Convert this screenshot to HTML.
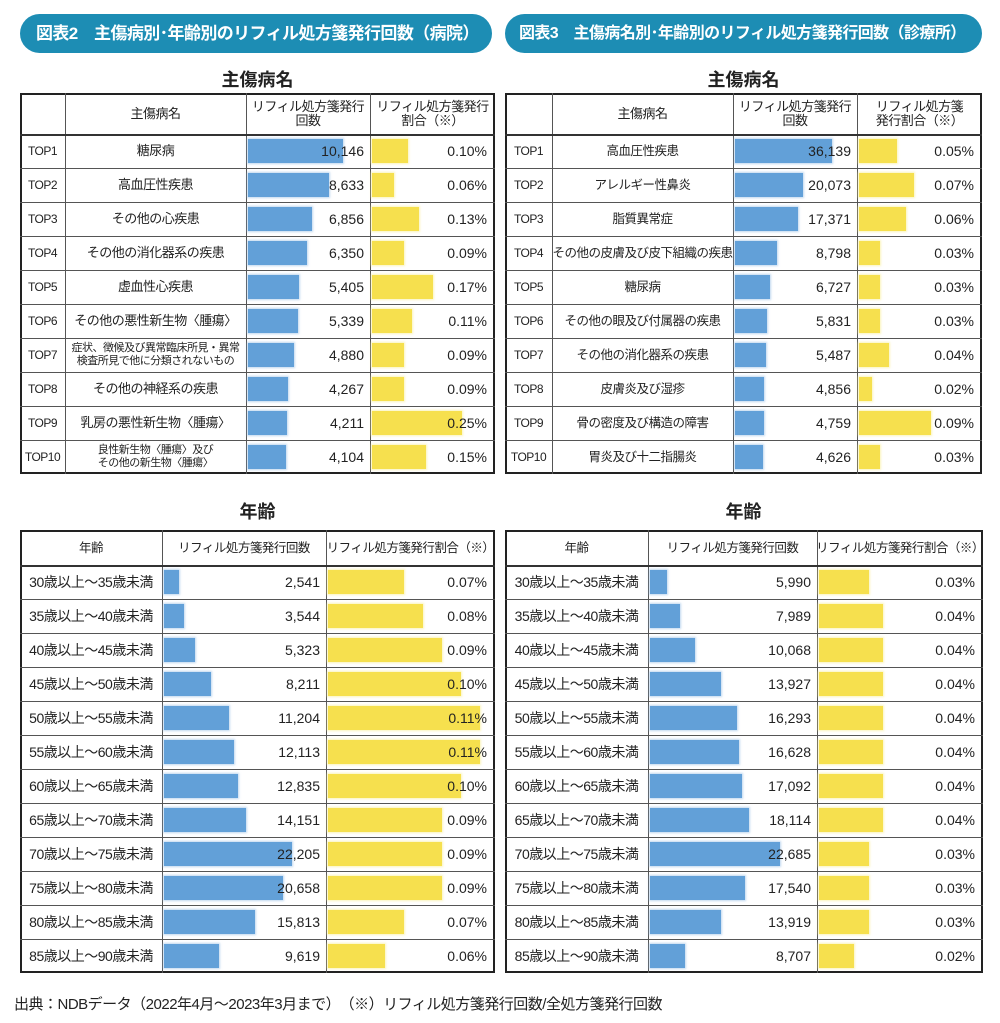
<!DOCTYPE html>
<html><head><meta charset="utf-8">
<style>
body{margin:0;width:1000px;height:1023px;background:#fff;position:relative;overflow:hidden;font-family:"Liberation Sans","Noto Sans CJK JP",sans-serif;color:#222}
.pill{position:absolute;top:14px;height:39px;border-radius:20px;background:#1d8db4;color:#fff;font-size:17px;font-weight:bold;line-height:39px;padding-left:16px;box-sizing:border-box;letter-spacing:-0.6px;white-space:nowrap;overflow:hidden}
.sub{position:absolute;font-size:18px;font-weight:bold;text-align:center}
.tbl{position:absolute;border:2px solid #222;box-sizing:border-box}
.vl{position:absolute;width:1px;background:#555}
.hl{position:absolute;height:1px;background:#555}
.cell{position:absolute;font-size:13px;display:flex;align-items:center;justify-content:center;text-align:center;line-height:14px;white-space:nowrap;letter-spacing:-0.5px}
.bar{position:absolute;box-shadow:0 0 2px 1px rgba(150,190,230,.6)}
.foot{position:absolute;left:14px;top:993px;font-size:15px;letter-spacing:-0.5px}
</style></head><body>
<div class="pill" style="left:20px;width:472px">図表2　主傷病別･年齢別のリフィル処方箋発行回数（病院）</div>
<div class="pill" style="left:505px;width:477px;font-size:16px;padding-left:14px">図表3　主傷病名別･年齢別のリフィル処方箋発行回数（診療所）</div>
<div class="sub" style="left:20px;width:475px;top:66px">主傷病名</div>
<div class="sub" style="left:505px;width:477px;top:66px">主傷病名</div>
<div class="sub" style="left:20px;width:475px;top:498px">年齢</div>
<div class="sub" style="left:505px;width:477px;top:498px">年齢</div>
<div class="foot">出典：NDBデータ（2022年4月～2023年3月まで）　（※）リフィル処方箋発行回数/全処方箋発行回数</div>
<script>
const hospDiseases=["糖尿病","高血圧性疾患","その他の心疾患","その他の消化器系の疾患","虚血性心疾患","その他の悪性新生物〈腫瘍〉","症状、徴候及び異常臨床所見・異常<br>検査所見で他に分類されないもの","その他の神経系の疾患","乳房の悪性新生物〈腫瘍〉","良性新生物〈腫瘍〉及び<br>その他の新生物〈腫瘍〉"];
const hospDiseaseCounts=[10146,8633,6856,6350,5405,5339,4880,4267,4211,4104];
const hospDiseaseRates=[0.10,0.06,0.13,0.09,0.17,0.11,0.09,0.09,0.25,0.15];
const clinDiseases=["高血圧性疾患","アレルギー性鼻炎","脂質異常症","その他の皮膚及び皮下組織の疾患","糖尿病","その他の眼及び付属器の疾患","その他の消化器系の疾患","皮膚炎及び湿疹","骨の密度及び構造の障害","胃炎及び十二指腸炎"];
const clinDiseaseCounts=[36139,20073,17371,8798,6727,5831,5487,4856,4759,4626];
const clinDiseaseRates=[0.05,0.07,0.06,0.03,0.03,0.03,0.04,0.02,0.09,0.03];
const ages=["30歳以上～35歳未満","35歳以上～40歳未満","40歳以上～45歳未満","45歳以上～50歳未満","50歳以上～55歳未満","55歳以上～60歳未満","60歳以上～65歳未満","65歳以上～70歳未満","70歳以上～75歳未満","75歳以上～80歳未満","80歳以上～85歳未満","85歳以上～90歳未満"];
const hospAgeCounts=[2541,3544,5323,8211,11204,12113,12835,14151,22205,20658,15813,9619];
const hospAgeRates=[0.07,0.08,0.09,0.10,0.11,0.11,0.10,0.09,0.09,0.09,0.07,0.06];
const clinAgeCounts=[5990,7989,10068,13927,16293,16628,17092,18114,22685,17540,13919,8707];
const clinAgeRates=[0.03,0.04,0.04,0.04,0.04,0.04,0.04,0.04,0.03,0.03,0.03,0.02];

function mk(cls,name,st,html){
  const e=document.createElement('div');
  e.className=cls;
  
  
  e.style.cssText=st;
  if(html!==undefined)e.innerHTML=html;
  document.body.appendChild(e);
  return e;
}
function fmt(v){return v.toLocaleString('en-US');}
function table(o){
  const n=o.counts.length;
  const rh=(o.bottom-o.top-o.hh)/n;
  mk('tbl',o.name,`left:${o.cols[0]}px;top:${o.top}px;width:${o.cols[o.cols.length-1]-o.cols[0]}px;height:${o.bottom-o.top}px`);
  for(let i=1;i<o.cols.length-1;i++)mk('vl','column-divider',`left:${o.cols[i]}px;top:${o.top}px;height:${o.bottom-o.top}px`);
  for(let r=0;r<n;r++)mk('hl','row-divider',`left:${o.cols[0]}px;top:${Math.round(o.top+o.hh+r*rh)}px;width:${o.cols[o.cols.length-1]-o.cols[0]}px;${r==0?'height:2px;background:#333':''}`);
  o.headers.forEach((h,i)=>mk('cell','column-header',`left:${o.cols[i]}px;top:${o.top}px;width:${o.cols[i+1]-o.cols[i]}px;height:${o.hh}px;font-size:${o.hf}px`,h));
  const k=o.cols.length-3;
  for(let r=0;r<n;r++){
    const y=o.top+o.hh+r*rh;
    let ci=0;
    if(o.ranks){mk('cell','rank-label',`left:${o.cols[0]}px;top:${y}px;width:${o.cols[1]-o.cols[0]}px;height:${rh}px;font-size:12px`,'TOP'+(r+1));ci=1;}
    mk('cell','row-label',`left:${o.cols[ci]}px;top:${y}px;width:${o.cols[ci+1]-o.cols[ci]}px;height:${rh}px;font-size:${o.labels[r].includes('<br>')?'11px;line-height:13px':o.lf+'px'}`,o.labels[r]);
    const cx=o.cols[k]+2, px=o.cols[k+1]+2;
    mk('bar','count-bar',`left:${cx}px;top:${y+5}px;height:${rh-10}px;width:${o.cw(o.counts[r])}px;background:#62a0d8`);
    mk('bar','rate-bar',`left:${px}px;top:${y+5}px;height:${rh-10}px;width:${o.pw(o.rates[r])}px;background:#f6e04e;box-shadow:0 0 2px 1px rgba(250,240,160,.7)`);
    mk('cell','count-value',`left:${o.cols[k]}px;top:${y}px;width:${o.cols[k+1]-o.cols[k]-6}px;height:${rh}px;justify-content:flex-end;font-size:14px;letter-spacing:0`,fmt(o.counts[r]));
    mk('cell','rate-value',`left:${o.cols[k+1]}px;top:${y}px;width:${o.cols[k+2]-o.cols[k+1]-8}px;height:${rh}px;justify-content:flex-end;font-size:14px;letter-spacing:0`,o.rates[r].toFixed(2)+'%');
  }
}
const hmax=Math.max(...hospDiseaseCounts), cmax=Math.max(...clinDiseaseCounts);
table({name:'hospital-disease-table',top:93,bottom:474,hh:41,hf:13,lf:13,cols:[20,65,246,370,495],ranks:true,labels:hospDiseases,counts:hospDiseaseCounts,rates:hospDiseaseRates,
  headers:['','主傷病名','リフィル処方箋発行<br>回数','リフィル処方箋発行<br>割合（※）'],
  cw:v=>v/hmax*95,pw:v=>v*360});
table({name:'clinic-disease-table',top:93,bottom:474,hh:41,hf:13,lf:12.5,cols:[505,552,733,857,982],ranks:true,labels:clinDiseases,counts:clinDiseaseCounts,rates:clinDiseaseRates,
  headers:['','主傷病名','リフィル処方箋発行<br>回数','リフィル処方箋<br>発行割合（※）'],
  cw:v=>Math.pow(v/cmax,0.6)*97,pw:v=>Math.max(4,(v-0.005)*850)});
const hamax=Math.max(...hospAgeCounts), camax=Math.max(...clinAgeCounts);
table({name:'hospital-age-table',top:530,bottom:973,hh:35,hf:12.5,lf:14,cols:[20,162,326,495],ranks:false,labels:ages,counts:hospAgeCounts,rates:hospAgeRates,
  headers:['年齢','リフィル処方箋発行回数','リフィル処方箋発行割合（※）'],
  cw:v=>v/hamax*128,pw:v=>Math.max(4,(v-0.03)*1900)});
table({name:'clinic-age-table',top:530,bottom:973,hh:35,hf:12.5,lf:14,cols:[505,648,817,983],ranks:false,labels:ages,counts:clinAgeCounts,rates:clinAgeRates,
  headers:['年齢','リフィル処方箋発行回数','リフィル処方箋発行割合（※）'],
  cw:v=>Math.max(4,(v-3500)/(camax-3500)*130),pw:v=>6+v*1450});
</script>
</body></html>
